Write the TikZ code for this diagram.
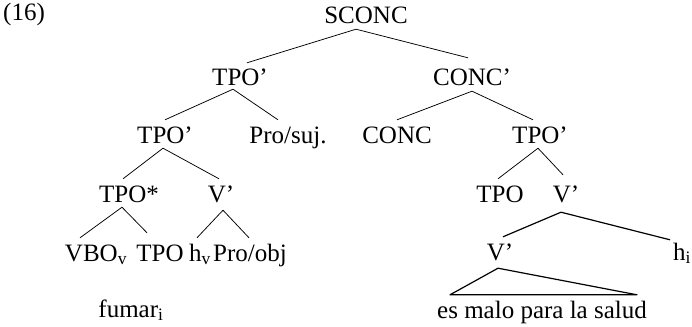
\documentclass[tikz,border=0pt]{standalone}
\usepackage{fontspec}
\setmainfont{Liberation Serif}
\begin{document}
\begin{tikzpicture}[x=1pt,y=-1pt,
  lbl/.style={anchor=base, font=\fontsize{25}{30}\selectfont, text height=21pt, text depth=3pt, inner xsep=0pt, inner ysep=2pt},
  br/.style={line width=0.75pt},
  thickbr/.style={line width=1.2pt, line join=round}]
\useasboundingbox (0,0) rectangle (692,326);
\node[lbl, anchor=base west] (ex) at (3,21) {(16)};
\node[lbl] (sconc) at (366,24) {SCONC};
\node[lbl] (tpoA) at (240,86) {TPO’};
\node[lbl] (concp) at (472,86) {CONC’};
\node[lbl] (tpoB) at (165,143) {TPO’};
\node[lbl] (prosuj) at (288,143) {Pro/suj.};
\node[lbl] (conc) at (397,143) {CONC};
\node[lbl] (tpoC) at (540,143) {TPO’};
\node[lbl] (tpostar) at (129,202) {TPO*};
\node[lbl] (vL) at (221,202) {V’};
\node[lbl] (tpoR) at (500,202) {TPO};
\node[lbl] (vR) at (566,202) {V’};
\node[lbl] (vbo) at (96,261) {VBO\textsubscript{v}};
\node[lbl] (tpoL) at (160,261) {TPO};
\node[lbl] (hv) at (200,261) {h\textsubscript{v}};
\node[lbl] (proobj) at (250,261) {Pro/obj};
\node[lbl] (vlow) at (500,260) {V’};
\node[lbl] (hi) at (682,260) {h\textsubscript{i}};
\node[lbl] (fumar) at (131,317) {fumar\textsubscript{i}};
\node[lbl] (salud) at (542,318) {es malo para la salud};

\draw[br] ([xshift=-10pt]sconc.south) -- ([xshift=7pt]tpoA.north);
\draw[br] ([xshift=-10pt]sconc.south) -- ([xshift=-4pt,yshift=5pt]concp.north);
\draw[br] ([xshift=-7pt,yshift=2pt]tpoA.south) -- (tpoB.north);
\draw[br] ([xshift=-7pt,yshift=2pt]tpoA.south) -- ([xshift=-10pt]prosuj.north);
\draw[br] (concp.south) -- (conc.north);
\draw[br] (concp.south) -- ([xshift=-7pt]tpoC.north);
\draw[br] ([xshift=-2pt]tpoB.south) -- ([xshift=-6pt]tpostar.north);
\draw[br] ([xshift=-2pt]tpoB.south) -- ([xshift=-2pt]vL.north);
\draw[br] ([xshift=-7pt]tpostar.south) -- ([xshift=-16pt]vbo.north);
\draw[br] ([xshift=-7pt]tpostar.south) -- ([xshift=-13pt,yshift=5pt]tpoL.north);
\draw[br] ([xshift=2pt,yshift=-3pt]vL.south) -- ([xshift=-3pt]hv.north);
\draw[br] ([xshift=2pt,yshift=-3pt]vL.south) -- ([xshift=-1pt]proobj.north);
\draw[br] ([xshift=-2pt]tpoC.south) -- ([xshift=-2pt]tpoR.north);
\draw[br] ([xshift=-2pt]tpoC.south) -- ([xshift=-3pt,yshift=4pt]vR.north);
\draw[thickbr] ([xshift=-5pt,yshift=-5pt]vR.south) -- ([xshift=3pt]vlow.north);
\draw[thickbr] ([xshift=-5pt,yshift=-5pt]vR.south) -- ([xshift=-12pt,yshift=-3pt]hi.north);
\draw[thickbr] ([xshift=-2pt,yshift=-3pt]vlow.south) -- ([xshift=-92pt]salud.north) -- ([xshift=95pt]salud.north) -- cycle;
\end{tikzpicture}
\end{document}
